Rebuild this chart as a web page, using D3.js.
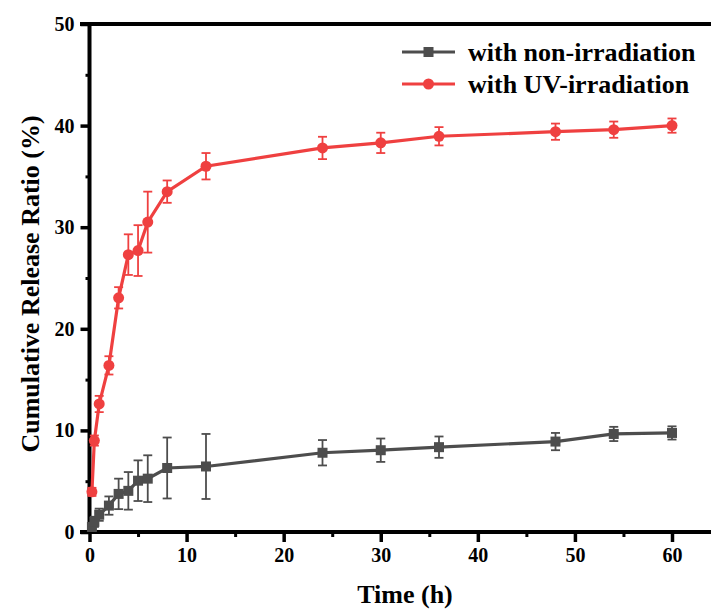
<!DOCTYPE html>
<html>
<head>
  <meta charset="utf-8">
  <title>Cumulative release</title>
  <script src="https://cdn.jsdelivr.net/npm/d3@7"></script>
  <style>
    body { margin: 0; background: #fff; }
    text { font-family: "Liberation Serif", "Times New Roman", serif; font-weight: bold; }
  </style>
</head>
<body>
<script>
// data
const timeNon = [0.25, 0.5, 1, 2, 3, 4, 5, 6, 8, 12, 24, 30, 36, 48, 54, 60];
const valNon  = [0.5, 1.0, 1.7, 2.6, 3.75, 4.05, 5.05, 5.25, 6.3, 6.45, 7.8, 8.05, 8.35, 8.9, 9.65, 9.75];
const errNon  = [0.4, 0.5, 0.6, 0.9, 1.5, 1.85, 2.0, 2.3, 3.0, 3.2, 1.25, 1.15, 1.05, 0.85, 0.7, 0.65];

const timeUV = [0.25, 0.5, 1, 2, 3, 4, 5, 6, 8, 12, 24, 30, 36, 48, 54, 60];
const valUV  = [3.95, 9.0, 12.6, 16.4, 23.05, 27.3, 27.7, 30.5, 33.5, 36.0, 37.8, 38.3, 38.95, 39.4, 39.6, 40.0];
const errUV  = [0.4, 0.5, 0.8, 0.9, 1.05, 2.0, 2.5, 3.0, 1.1, 1.3, 1.1, 1.0, 0.9, 0.8, 0.8, 0.7];

const seriesNames = ["with non-irradiation", "with UV-irradiation"];
const xTicks = [0, 10, 20, 30, 40, 50, 60];
const yTicks = [0, 10, 20, 30, 40, 50];

const w = 711, h = 611;
const gray = "#4d4d4d", red = "#ef4040";

const x = d3.scaleLinear().domain([0, 60]).range([89.5, 672]);
const y = d3.scaleLinear().domain([0, 50]).range([532, 24]);

const svg = d3.select("body").append("svg")
  .attr("width", w).attr("height", h);

// axes
const xAxis = svg.append("g").attr("transform", "translate(0,532)")
  .call(d3.axisBottom(x).tickValues(xTicks).tickSize(10).tickPadding(6));
xAxis.select(".domain").remove();
xAxis.selectAll("line").attr("stroke", "#000").attr("stroke-width", 3.5);
xAxis.selectAll("text").attr("font-size", 20).attr("fill", "#000")
  .attr("font-family", "Liberation Serif").attr("font-weight", "bold");

const xMinor = svg.append("g").attr("transform", "translate(0,532)")
  .call(d3.axisBottom(x).tickValues(d3.range(5, 65, 10)).tickSize(5).tickFormat(""));
xMinor.select(".domain").remove();
xMinor.selectAll("line").attr("stroke", "#000").attr("stroke-width", 3);

const yAxis = svg.append("g").attr("transform", "translate(89.5,0)")
  .call(d3.axisLeft(y).tickValues(yTicks).tickSize(9).tickPadding(6));
yAxis.select(".domain").remove();
yAxis.selectAll("line").attr("stroke", "#000").attr("stroke-width", 3.5);
yAxis.selectAll("text").attr("font-size", 20).attr("fill", "#000")
  .attr("font-family", "Liberation Serif").attr("font-weight", "bold");

const yMinor = svg.append("g").attr("transform", "translate(89.5,0)")
  .call(d3.axisLeft(y).tickValues(d3.range(5, 55, 10)).tickSize(4).tickFormat(""));
yMinor.select(".domain").remove();
yMinor.selectAll("line").attr("stroke", "#000").attr("stroke-width", 3);

// frame lines
svg.append("line").attr("x1", 89.5).attr("x2", 89.5).attr("y1", y(50)).attr("y2", y(0))
  .attr("stroke", "#000").attr("stroke-width", 4);
svg.append("line").attr("x1", 80).attr("x2", w).attr("y1", y(0)).attr("y2", y(0))
  .attr("stroke", "#000").attr("stroke-width", 4);
svg.append("line").attr("x1", 80).attr("x2", w).attr("y1", y(50)).attr("y2", y(50))
  .attr("stroke", "#000").attr("stroke-width", 4);

// axis titles
svg.append("text").attr("x", 405).attr("y", 603).attr("text-anchor", "middle")
  .attr("font-size", 26).text("Time (h)");
svg.append("text").attr("transform", "translate(39,284) rotate(-90)")
  .attr("text-anchor", "middle").attr("font-size", 26).text("Cumulative Release Ratio (%)");

function drawSeries(times, vals, errs, color, marker) {
  const pts = times.map((t, i) => ({ t: t, v: vals[i], e: errs[i] }));
  const g = svg.append("g");
  const eb = g.selectAll(".eb").data(pts).enter().append("g")
    .attr("stroke", color).attr("stroke-width", 1.8);
  eb.append("line").attr("x1", d => x(d.t)).attr("x2", d => x(d.t))
    .attr("y1", d => y(d.v - d.e)).attr("y2", d => y(d.v + d.e));
  eb.append("line").attr("x1", d => x(d.t) - 4.5).attr("x2", d => x(d.t) + 4.5)
    .attr("y1", d => y(d.v - d.e)).attr("y2", d => y(d.v - d.e));
  eb.append("line").attr("x1", d => x(d.t) - 4.5).attr("x2", d => x(d.t) + 4.5)
    .attr("y1", d => y(d.v + d.e)).attr("y2", d => y(d.v + d.e));

  g.append("path").datum(pts)
    .attr("fill", "none").attr("stroke", color).attr("stroke-width", 3.2)
    .attr("d", d3.line().x(d => x(d.t)).y(d => y(d.v)));

  if (marker === "square") {
    g.selectAll(".m").data(pts).enter().append("rect")
      .attr("x", d => x(d.t) - 5).attr("y", d => y(d.v) - 5)
      .attr("width", 10).attr("height", 10).attr("fill", color);
  } else {
    g.selectAll(".m").data(pts).enter().append("circle")
      .attr("cx", d => x(d.t)).attr("cy", d => y(d.v)).attr("r", 5.5).attr("fill", color);
  }
}

drawSeries(timeNon, valNon, errNon, gray, "square");
drawSeries(timeUV, valUV, errUV, red, "circle");

// legend
const legend = [
  { name: seriesNames[0], color: gray, marker: "square", y: 52 },
  { name: seriesNames[1], color: red, marker: "circle", y: 84 }
];
legend.forEach(d => {
  svg.append("line").attr("x1", 402).attr("x2", 455).attr("y1", d.y).attr("y2", d.y)
    .attr("stroke", d.color).attr("stroke-width", 3.2);
  if (d.marker === "square") {
    svg.append("rect").attr("x", 423.5).attr("y", d.y - 5).attr("width", 10).attr("height", 10)
      .attr("fill", d.color);
  } else {
    svg.append("circle").attr("cx", 428.5).attr("cy", d.y).attr("r", 5.5).attr("fill", d.color);
  }
  svg.append("text").attr("x", 468).attr("y", d.y + 9).attr("font-size", 26).text(d.name);
});
</script>
</body>
</html>
